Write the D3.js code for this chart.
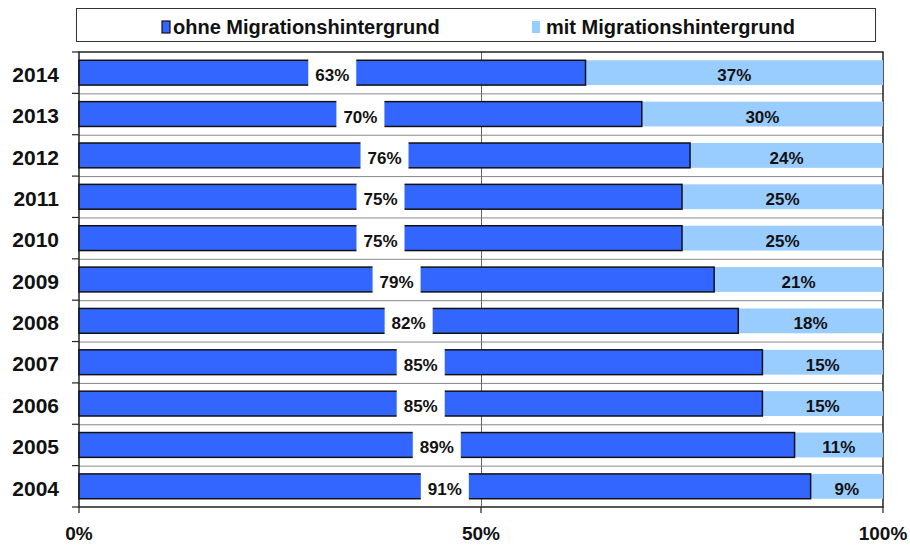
<!DOCTYPE html>
<html>
<head>
<meta charset="utf-8">
<script src="https://cdn.jsdelivr.net/npm/d3@7"></script>
<style>
  body { margin: 0; background: #fff; }
  text { font-family: "Liberation Sans", Arial, sans-serif; font-weight: bold; fill: #111; }
</style>
</head>
<body>
<div id="chart"></div>
<script>
const years = ['2014', '2013', '2012', '2011', '2010', '2009', '2008', '2007', '2006', '2005', '2004']
const ohne = [63, 70, 76, 75, 75, 79, 82, 85, 85, 89, 91]
const mit = [37, 30, 24, 25, 25, 21, 18, 15, 15, 11, 9]
const seriesNames = ['ohne Migrationshintergrund', 'mit Migrationshintergrund']
const xTicks = [0, 50, 100]

const width = 910, height = 545
const margin = { top: 52, right: 27, bottom: 38, left: 79 }
const darkBlue = '#3366ff', lightBlue = '#99ccff'

const svg = d3.select('#chart').append('svg')
  .attr('width', width)
  .attr('height', height)

const x = d3.scaleLinear().domain([0, 100]).range([margin.left, width - margin.right])
const y = d3.scaleBand().domain(years).range([margin.top, height - margin.bottom]).paddingInner(0.4).paddingOuter(0.2)
const yEdge = d3.scaleBand().domain(years).range([margin.top, height - margin.bottom])

// horizontal grid lines at band edges
svg.append('g')
  .selectAll('line')
  .data(years.slice(1))
  .join('line')
  .attr('x1', x(0)).attr('x2', x(100))
  .attr('y1', d => yEdge(d) + 0.5).attr('y2', d => yEdge(d) + 0.5)
  .attr('stroke', '#888').attr('stroke-width', 1)

// vertical grid at 50%
svg.append('line')
  .attr('x1', x(50) + 0.5).attr('x2', x(50) + 0.5)
  .attr('y1', margin.top).attr('y2', height - margin.bottom)
  .attr('stroke', '#666').attr('stroke-width', 1)

// plot frame
svg.append('rect')
  .attr('x', x(0)).attr('y', margin.top)
  .attr('width', x(100) - x(0)).attr('height', height - margin.bottom - margin.top)
  .attr('fill', 'none').attr('stroke', '#222').attr('stroke-width', 1.5)

const rows = years.map((yr, i) => ({ yr, a: ohne[i], b: mit[i] }))

const g = svg.append('g')

// light bars
g.selectAll('rect.mit')
  .data(rows)
  .join('rect')
  .attr('class', 'mit')
  .attr('x', d => x(d.a))
  .attr('y', d => y(d.yr))
  .attr('width', d => x(d.a + d.b) - x(d.a))
  .attr('height', y.bandwidth())
  .attr('fill', lightBlue)

// dark bars
g.selectAll('rect.ohne')
  .data(rows)
  .join('rect')
  .attr('class', 'ohne')
  .attr('x', x(0))
  .attr('y', d => y(d.yr))
  .attr('width', d => x(d.a) - x(0))
  .attr('height', y.bandwidth())
  .attr('fill', darkBlue)
  .attr('stroke', '#111')
  .attr('stroke-width', 1.5)

// labels on dark bars with white box
const lab = g.selectAll('g.lab')
  .data(rows)
  .join('g')
  .attr('class', 'lab')
  .attr('transform', d => `translate(${x(d.a / 2)}, ${y(d.yr) + y.bandwidth() / 2})`)

lab.append('rect')
  .attr('x', -24).attr('y', -y.bandwidth() / 2 - 2)
  .attr('width', 48).attr('height', y.bandwidth() + 4)
  .attr('fill', '#fff')

lab.append('text')
  .attr('text-anchor', 'middle')
  .attr('dy', '0.5em')
  .attr('font-size', 17)
  .text(d => d.a + '%')

g.selectAll('text.mitlab')
  .data(rows)
  .join('text')
  .attr('class', 'mitlab')
  .attr('x', d => x(d.a + d.b / 2))
  .attr('y', d => y(d.yr) + y.bandwidth() / 2)
  .attr('text-anchor', 'middle')
  .attr('dy', '0.5em')
  .attr('font-size', 17)
  .text(d => d.b + '%')

// y axis
const yAxis = svg.append('g')
  .attr('transform', `translate(${x(0)},0)`)
yAxis.selectAll('line')
  .data(years.concat(['end']))
  .join('line')
  .attr('x1', -7).attr('x2', 0)
  .attr('y1', (d, i) => margin.top + i * yEdge.step())
  .attr('y2', (d, i) => margin.top + i * yEdge.step())
  .attr('stroke', '#222').attr('stroke-width', 1.2)
yAxis.selectAll('text')
  .data(years)
  .join('text')
  .attr('x', -20)
  .attr('y', d => yEdge(d) + yEdge.bandwidth() / 2)
  .attr('dy', '0.44em')
  .attr('text-anchor', 'end')
  .attr('font-size', 21)
  .text(d => d)

// x axis
const xAxis = svg.append('g')
  .attr('transform', `translate(0,${height - margin.bottom})`)
xAxis.selectAll('line')
  .data(xTicks)
  .join('line')
  .attr('x1', d => x(d)).attr('x2', d => x(d))
  .attr('y1', 0).attr('y2', 6)
  .attr('stroke', '#222').attr('stroke-width', 1.2)
xAxis.selectAll('text')
  .data(xTicks)
  .join('text')
  .attr('x', d => x(d))
  .attr('y', 33)
  .attr('text-anchor', 'middle')
  .attr('font-size', 19)
  .text(d => d + '%')

// legend
const legend = svg.append('g')
legend.append('rect')
  .attr('x', 76.5).attr('y', 8.5).attr('width', 799).attr('height', 33)
  .attr('fill', '#fff').attr('stroke', '#333').attr('stroke-width', 1)
const legItems = [
  { name: seriesNames[0], color: darkBlue, stroke: '#111', x: 162, tx: 11 },
  { name: seriesNames[1], color: lightBlue, stroke: 'none', x: 532, tx: 14 }
]
const li = legend.selectAll('g.item')
  .data(legItems)
  .join('g')
  .attr('class', 'item')
  .attr('transform', d => `translate(${d.x}, 27)`)
li.append('rect')
  .attr('x', 0).attr('y', -6).attr('width', 8).attr('height', 12)
  .attr('fill', d => d.color).attr('stroke', d => d.stroke).attr('stroke-width', 1.2)
li.append('text')
  .attr('x', d => d.tx).attr('dy', '0.36em')
  .attr('font-size', 20)
  .text(d => d.name)
</script>
</body>
</html>
